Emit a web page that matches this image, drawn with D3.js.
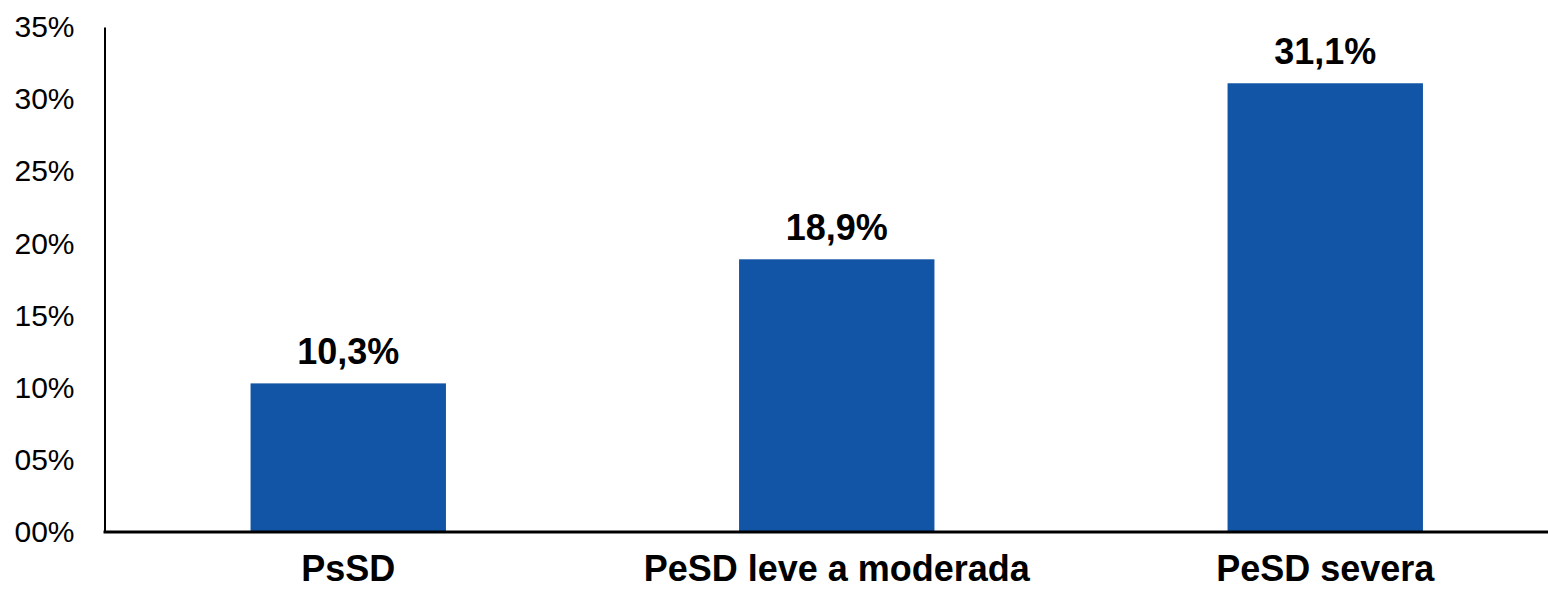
<!DOCTYPE html>
<html><head><meta charset="utf-8">
<script src="https://cdn.jsdelivr.net/npm/d3@7"></script>
<style>body{margin:0;background:#fff}svg{display:block}</style>
</head><body>
<svg id="c" width="1548" height="591"></svg>
<script>
const categories = ["PsSD", "PeSD leve a moderada", "PeSD severa"];
const values = [10.3, 18.9, 31.1];
const valueLabels = ["10,3%", "18,9%", "31,1%"];
const tickValues = [0, 5, 10, 15, 20, 25, 30, 35];
const tickLabels = ["00%", "05%", "10%", "15%", "20%", "25%", "30%", "35%"];

const svg = d3.select("#c");
const x = d3.scaleBand().domain(categories).range([104, 1569.5]).paddingInner(0.6).paddingOuter(0.3);
const y = d3.scaleLinear().domain([0, 35]).range([532, 27]);

svg.selectAll("rect.bar").data(values).join("rect")
  .attr("class","bar")
  .attr("x",(d,i)=>x(categories[i]))
  .attr("width",x.bandwidth())
  .attr("y",d=>y(d))
  .attr("height",d=>y(0)-y(d))
  .attr("fill","#1254A6");

svg.selectAll("text.val").data(values).join("text")
  .attr("class","val")
  .attr("x",(d,i)=>x(categories[i])+x.bandwidth()/2)
  .attr("y",d=>y(d)-19)
  .attr("text-anchor","middle")
  .attr("font-family","Liberation Sans, Arial, sans-serif")
  .attr("font-weight","bold")
  .attr("font-size",36)
  .text((d,i)=>valueLabels[i]);

// y axis
const yAxis = d3.axisLeft(y).tickValues(tickValues).tickSize(0).tickPadding(30)
  .tickFormat((d,i)=>tickLabels[i]);
const gy = svg.append("g").attr("transform","translate(104.5,0)").call(yAxis);
gy.select(".domain").attr("stroke","#000").attr("stroke-width",2);
gy.selectAll("text").attr("font-family","Liberation Sans, Arial, sans-serif").attr("font-size",30).attr("fill","#000");

// x axis
const xAxis = d3.axisBottom(x).tickSize(0).tickPadding(23);
const gx = svg.append("g").attr("transform","translate(0,532)").call(xAxis);
gx.select(".domain").remove();
gx.append("line").attr("x1",103.5).attr("x2",1548).attr("y1",0).attr("y2",0).attr("stroke","#000").attr("stroke-width",3);
gx.selectAll(".tick text").attr("font-family","Liberation Sans, Arial, sans-serif").attr("font-weight","bold").attr("font-size",36).attr("fill","#000");
</script>
</body></html>
